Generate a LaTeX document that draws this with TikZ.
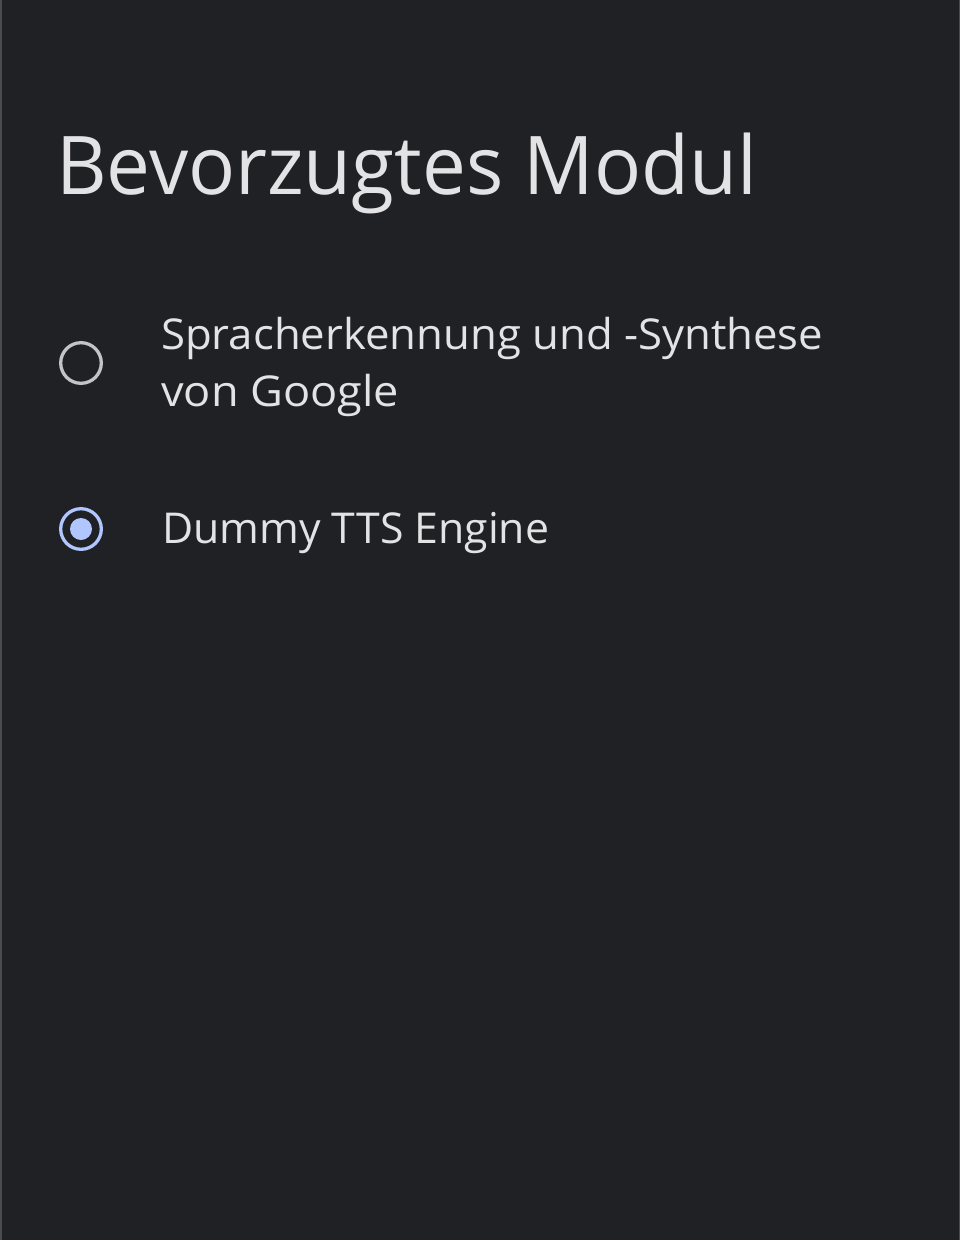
\documentclass[tikz,border=0pt]{standalone}
\usepackage{fontspec}
\usepackage{graphicx}
\setmainfont{Open Sans}
\definecolor{bg}{HTML}{202124}
\definecolor{fg}{HTML}{E3E3E6}
\definecolor{radiooff}{HTML}{C4C4C6}
\definecolor{radioon}{HTML}{B1C5FF}
\definecolor{edge}{HTML}{4A4B4E}
\newsavebox\fitbox
\newcommand\fitw[2]{\sbox\fitbox{#2}\pgfmathsetmacro\fitf{#1/\wd\fitbox}\scalebox{\fitf}[1]{\usebox\fitbox}}
\tikzset{
  txt/.style={inner sep=0pt, anchor=base west, text=fg},
  title/.style={txt, font=\fontsize{81}{97}\selectfont},
  item/.style={txt, font=\fontsize{42.5}{51}\selectfont},
  radiooffst/.style={draw=radiooff, line width=3.3pt},
  radioonst/.style={draw=radioon, line width=3.3pt},
}
\begin{document}
\begin{tikzpicture}[x=1pt,y=-1pt]
\fill[bg] (0,0) rectangle (960,1240);
\useasboundingbox (0,0) rectangle (960,1240);
\draw[edge, line width=1.5pt] (0.75,0) -- (0.75,1240);
\draw[edge, line width=1.5pt] (959.25,0) -- (959.25,1240);
\node[title] (t) at (56,194) {\fitw{701}{Bevorzugtes Modul}};
\node[item] (a1) at (161,349) {\fitw{662}{Spracherkennung und -Synthese}};
\node[item] (a2) at (161,406) {\fitw{238}{von Google}};
\node[item] (b1) at (162,543) {\fitw{387}{Dummy TTS Engine}};
\draw[radiooffst] (81,363) circle[radius=20.3];
\coordinate (r1) at (81,363);
\draw[radioonst] (81,529) circle[radius=20.3];
\fill[radioon] (81,529) circle[radius=11];
\coordinate (r2) at (81,529);
\end{tikzpicture}
\end{document}
